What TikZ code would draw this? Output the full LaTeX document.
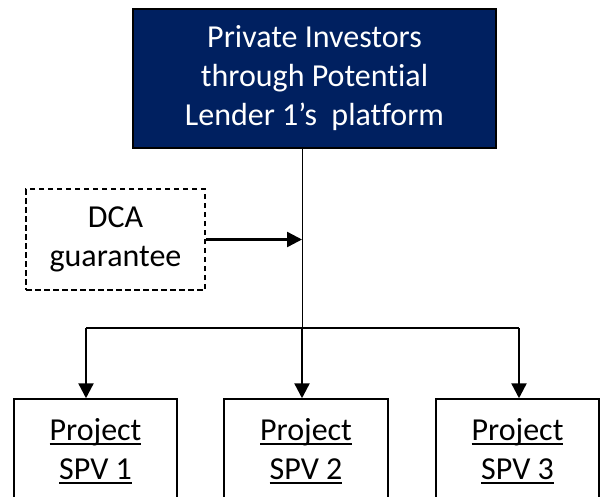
\documentclass[tikz,border=0pt]{standalone}
\usepackage{fontspec}
\setmainfont{Carlito}[Ligatures=NoCommon]
\usetikzlibrary{arrows.meta}
\definecolor{navy}{HTML}{002060}
\newcommand{\myul}[1]{\setbox0\hbox{#1}\rlap{\rule[-5pt]{\wd0}{2.2pt}}\box0}
\tikzset{
  box/.style={draw=black, line width=1.5pt, inner sep=0pt, align=center,
    font=\fontsize{32}{39}\selectfont},
  topbox/.style={box, line width=2pt, fill=navy, text=white, minimum width=363pt, minimum height=139pt},
  dcabox/.style={box, dash pattern=on 5.5pt off 3.5pt, line width=1.5pt, minimum width=179pt, minimum height=101pt},
  spvbox/.style={box, minimum width=163pt, minimum height=104pt},
  thinline/.style={draw=black, line width=1pt},
  hline/.style={draw=black, line width=1.5pt},
  arr/.style={draw=black, line width=2.4pt, -{Triangle[length=15pt,width=15pt]}},
}
\begin{document}
\begin{tikzpicture}[x=1pt,y=-1pt]
\useasboundingbox (0,0) rectangle (600,496);
\clip (0,0) rectangle (600,496);
\node[topbox] (top) at (314.5,78.5) {Private Investors\\through Potential\\Lender 1’s\ \ platform};
\node[dcabox] (dca) at (115.5,239.5) {DCA\\guarantee};
\node[spvbox] (s1) at (95.5,451) {\myul{Project}\\\myul{SPV 1}};
\node[spvbox, minimum width=164pt] (s2) at (306,451) {\myul{Project}\\\myul{SPV 2}};
\node[spvbox] (s3) at (517.5,451) {\myul{Project}\\\myul{SPV 3}};
\coordinate (j) at (302,328);
\coordinate (b1) at (86,328);
\coordinate (b3) at (519,328);
\draw[thinline] (top.south -| j) -- (j);
\draw[hline] (b1) -- (b3);
\draw[arr] (dca.east) -- (dca.east -| j);
\draw[arr] (b1) -- (b1 |- s1.north);
\draw[arr] (j) -- (j |- s2.north);
\draw[arr] (b3) -- (b3 |- s3.north);
\end{tikzpicture}
\end{document}
